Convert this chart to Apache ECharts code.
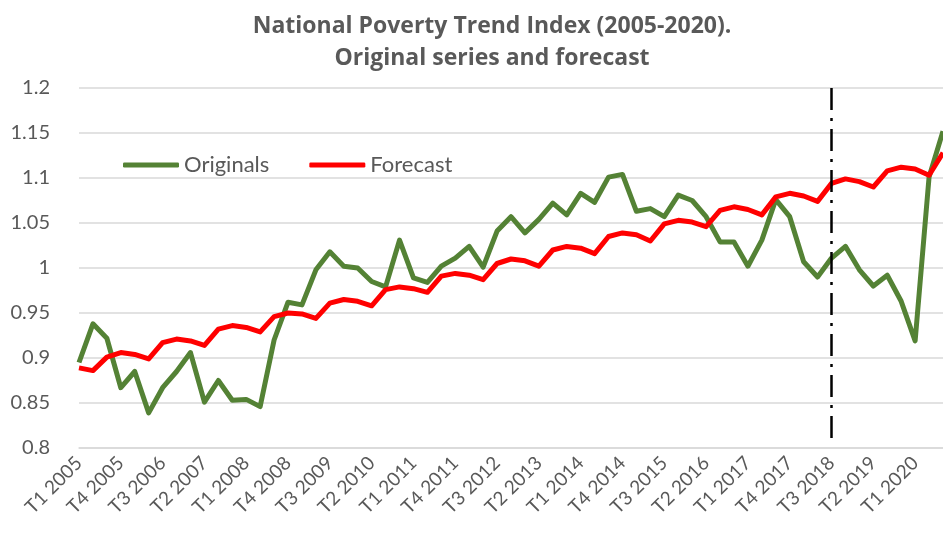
<!DOCTYPE html>
<html>
<head>
<meta charset="utf-8">
<title>National Poverty Trend Index</title>
<script src="https://cdn.jsdelivr.net/npm/echarts@6/dist/echarts.min.js"></script>
<style>
  html, body { margin: 0; padding: 0; background: #fff; }
  #chart { width: 943px; height: 536px; }
</style>
</head>
<body>
<div id="chart"></div>
<script>
// quarters T1 2005 .. T3 2020
const quarters = [
  'T1 2005', 'T2 2005', 'T3 2005', 'T4 2005',
  'T1 2006', 'T2 2006', 'T3 2006', 'T4 2006',
  'T1 2007', 'T2 2007', 'T3 2007', 'T4 2007',
  'T1 2008', 'T2 2008', 'T3 2008', 'T4 2008',
  'T1 2009', 'T2 2009', 'T3 2009', 'T4 2009',
  'T1 2010', 'T2 2010', 'T3 2010', 'T4 2010',
  'T1 2011', 'T2 2011', 'T3 2011', 'T4 2011',
  'T1 2012', 'T2 2012', 'T3 2012', 'T4 2012',
  'T1 2013', 'T2 2013', 'T3 2013', 'T4 2013',
  'T1 2014', 'T2 2014', 'T3 2014', 'T4 2014',
  'T1 2015', 'T2 2015', 'T3 2015', 'T4 2015',
  'T1 2016', 'T2 2016', 'T3 2016', 'T4 2016',
  'T1 2017', 'T2 2017', 'T3 2017', 'T4 2017',
  'T1 2018', 'T2 2018', 'T3 2018', 'T4 2018',
  'T1 2019', 'T2 2019', 'T3 2019', 'T4 2019',
  'T1 2020', 'T2 2020', 'T3 2020'
];

const originals = [
  0.895, 0.938, 0.922, 0.867, 0.885, 0.839, 0.867, 0.885,
  0.906, 0.851, 0.875, 0.853, 0.854, 0.846, 0.920, 0.962,
  0.959, 0.998, 1.018, 1.002, 1.000, 0.985, 0.979, 1.031,
  0.989, 0.984, 1.002, 1.011, 1.024, 1.001, 1.041, 1.057,
  1.039, 1.054, 1.072, 1.059, 1.083, 1.073, 1.101, 1.104,
  1.063, 1.066, 1.057, 1.081, 1.075, 1.057, 1.029, 1.029,
  1.002, 1.031, 1.076, 1.057, 1.007, 0.990, 1.011, 1.024,
  0.998, 0.980, 0.992, 0.963, 0.919, 1.101, 1.152
];

const forecast = [
  0.889, 0.886, 0.901, 0.906, 0.904, 0.899, 0.917, 0.921,
  0.919, 0.914, 0.932, 0.936, 0.934, 0.929, 0.946, 0.950,
  0.949, 0.944, 0.961, 0.965, 0.963, 0.958, 0.976, 0.979,
  0.977, 0.973, 0.991, 0.994, 0.992, 0.987, 1.005, 1.010,
  1.008, 1.002, 1.020, 1.024, 1.022, 1.016, 1.035, 1.039,
  1.037, 1.030, 1.049, 1.053, 1.051, 1.046, 1.064, 1.068,
  1.065, 1.059, 1.079, 1.083, 1.080, 1.074, 1.094, 1.099,
  1.096, 1.090, 1.108, 1.112, 1.110, 1.103, 1.128
];

// start of the forecast period (dash-dot marker)
const cutoffQuarter = 'T3 2018';
const cutoffSpan = [1.2, 0.809];

const textGrey = '#595959';
const fontFamily = 'Lato, "Open Sans", sans-serif';

const chart = echarts.init(document.getElementById('chart'));

chart.setOption({
  animation: false,
  backgroundColor: '#fff',
  textStyle: { fontFamily: fontFamily },
  title: {
    text: 'National Poverty Trend Index (2005-2020).\nOriginal series and forecast',
    left: 487,
    top: 5,
    textAlign: 'center',
    textStyle: {
      color: textGrey,
      fontSize: 23,
      fontWeight: 'bold',
      lineHeight: 32,
      fontFamily: '"Open Sans", Lato, sans-serif'
    }
  },
  legend: {
    left: 118,
    top: 149,
    icon: 'roundRect',
    itemWidth: 56,
    itemHeight: 5,
    itemGap: 40,
    textStyle: { color: textGrey, fontSize: 22 },
    data: ['Originals', 'Forecast']
  },
  grid: {
    left: 79,
    right: -4,
    top: 88,
    bottom: 88,
    containLabel: false
  },
  xAxis: {
    type: 'category',
    data: quarters,
    boundaryGap: false,
    axisLine: { lineStyle: { color: '#d9d9d9', width: 1.5 } },
    axisTick: { show: false },
    axisLabel: {
      interval: 2,
      rotate: 45,
      color: textGrey,
      fontSize: 19,
      margin: 12
    },
    splitLine: { show: false }
  },
  yAxis: {
    type: 'value',
    min: 0.8,
    max: 1.2,
    interval: 0.05,
    axisLine: { show: false },
    axisTick: { show: false },
    axisLabel: { color: textGrey, fontSize: 20, margin: 29 },
    splitLine: { lineStyle: { color: '#d9d9d9', width: 1.5 } }
  },
  series: [
    {
      name: 'Originals',
      type: 'line',
      data: originals,
      symbol: 'none',
      lineStyle: { color: '#548235', width: 5, join: 'round' },
      itemStyle: { color: '#548235' },
      markLine: {
        silent: true,
        symbol: 'none',
        label: { show: false },
        lineStyle: { color: '#000', width: 2.5, type: [22, 8, 3, 8] },
        data: [[
          { coord: [cutoffQuarter, cutoffSpan[0]] },
          { coord: [cutoffQuarter, cutoffSpan[1]] }
        ]]
      }
    },
    {
      name: 'Forecast',
      type: 'line',
      data: forecast,
      symbol: 'none',
      lineStyle: { color: '#ff0000', width: 5, join: 'round' },
      itemStyle: { color: '#ff0000' }
    }
  ]
});
</script>
</body>
</html>
